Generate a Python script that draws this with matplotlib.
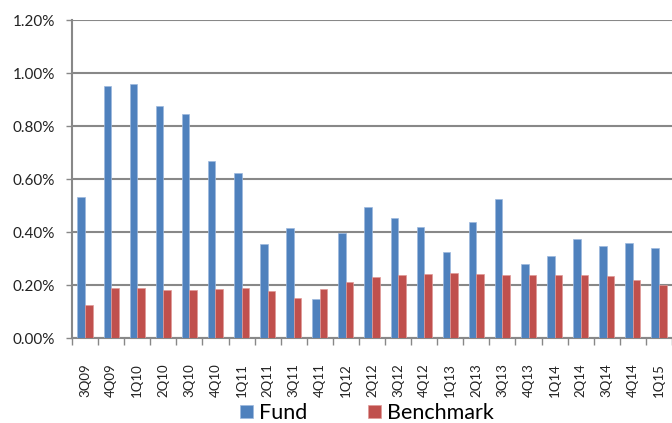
import matplotlib
matplotlib.use("Agg")
import matplotlib.pyplot as plt
import numpy as np
from matplotlib.ticker import FuncFormatter, FixedLocator

quarters = ["3Q09", "4Q09", "1Q10", "2Q10", "3Q10", "4Q10", "1Q11", "2Q11", "3Q11", "4Q11",
            "1Q12", "2Q12", "3Q12", "4Q12", "1Q13", "2Q13", "3Q13", "4Q13", "1Q14", "2Q14",
            "3Q14", "4Q14", "1Q15"]
fund = [0.533, 0.950, 0.957, 0.875, 0.844, 0.667, 0.623, 0.355, 0.414, 0.147,
        0.397, 0.493, 0.452, 0.419, 0.326, 0.439, 0.526, 0.280, 0.309, 0.375,
        0.347, 0.357, 0.338]
benchmark = [0.125, 0.189, 0.187, 0.181, 0.180, 0.185, 0.187, 0.177, 0.150, 0.184,
             0.211, 0.229, 0.237, 0.240, 0.244, 0.240, 0.237, 0.238, 0.237, 0.237,
             0.235, 0.218, 0.200]

plt.rcParams['font.family'] = ['Lato', 'DejaVu Sans']

fig = plt.figure(figsize=(6.72, 4.23), dpi=100)
ax = fig.add_axes([72/672, 1-338/423, 1-72/672, (338-20)/423])

x = np.arange(len(quarters))
w = 0.29
grid_c = '#888888'
ax.bar(x - w/2, fund, width=w, color='#4F81BD', label='Fund', zorder=3,
       edgecolor='#9DB9DD', linewidth=0.5)
ax.bar(x + w/2, benchmark, width=w, color='#C0504D', label='Benchmark', zorder=3,
       edgecolor='#E09A98', linewidth=0.5)

ax.set_ylim(0, 1.2)
ax.set_xlim(-0.5, len(quarters) - 0.5)
ax.set_yticks(np.arange(0, 1.21, 0.2))
ax.yaxis.set_major_formatter(FuncFormatter(lambda v, p: f"{v:.2f}%"))
ax.yaxis.grid(True, color=grid_c, linewidth=1.5, zorder=0)
ax.set_axisbelow(True)

ax.set_xticks(x)
ax.set_xticklabels(quarters, rotation=90, fontsize=9.5, color='#222222')
ax.xaxis.set_minor_locator(FixedLocator(np.arange(-0.5, len(quarters), 1.0)))
ax.tick_params(axis='x', which='major', length=0, pad=18)
ax.tick_params(axis='x', which='minor', length=5, color=grid_c, width=1)
ax.tick_params(axis='y', length=4, color=grid_c, width=1, labelsize=11,
               labelcolor='#222222', pad=8)

for s in ['top', 'right']:
    ax.spines[s].set_visible(False)
for s in ['left', 'bottom']:
    ax.spines[s].set_color(grid_c)
    ax.spines[s].set_linewidth(1.5)

fig.legend(loc='center', bbox_to_anchor=(367/672, 1-413/423), ncol=2, frameon=False,
           fontsize=15.5, handlelength=0.6, handleheight=0.6, columnspacing=2.8,
           handletextpad=0.3, borderpad=0, borderaxespad=0)

fig.savefig("out.png", dpi=100)
